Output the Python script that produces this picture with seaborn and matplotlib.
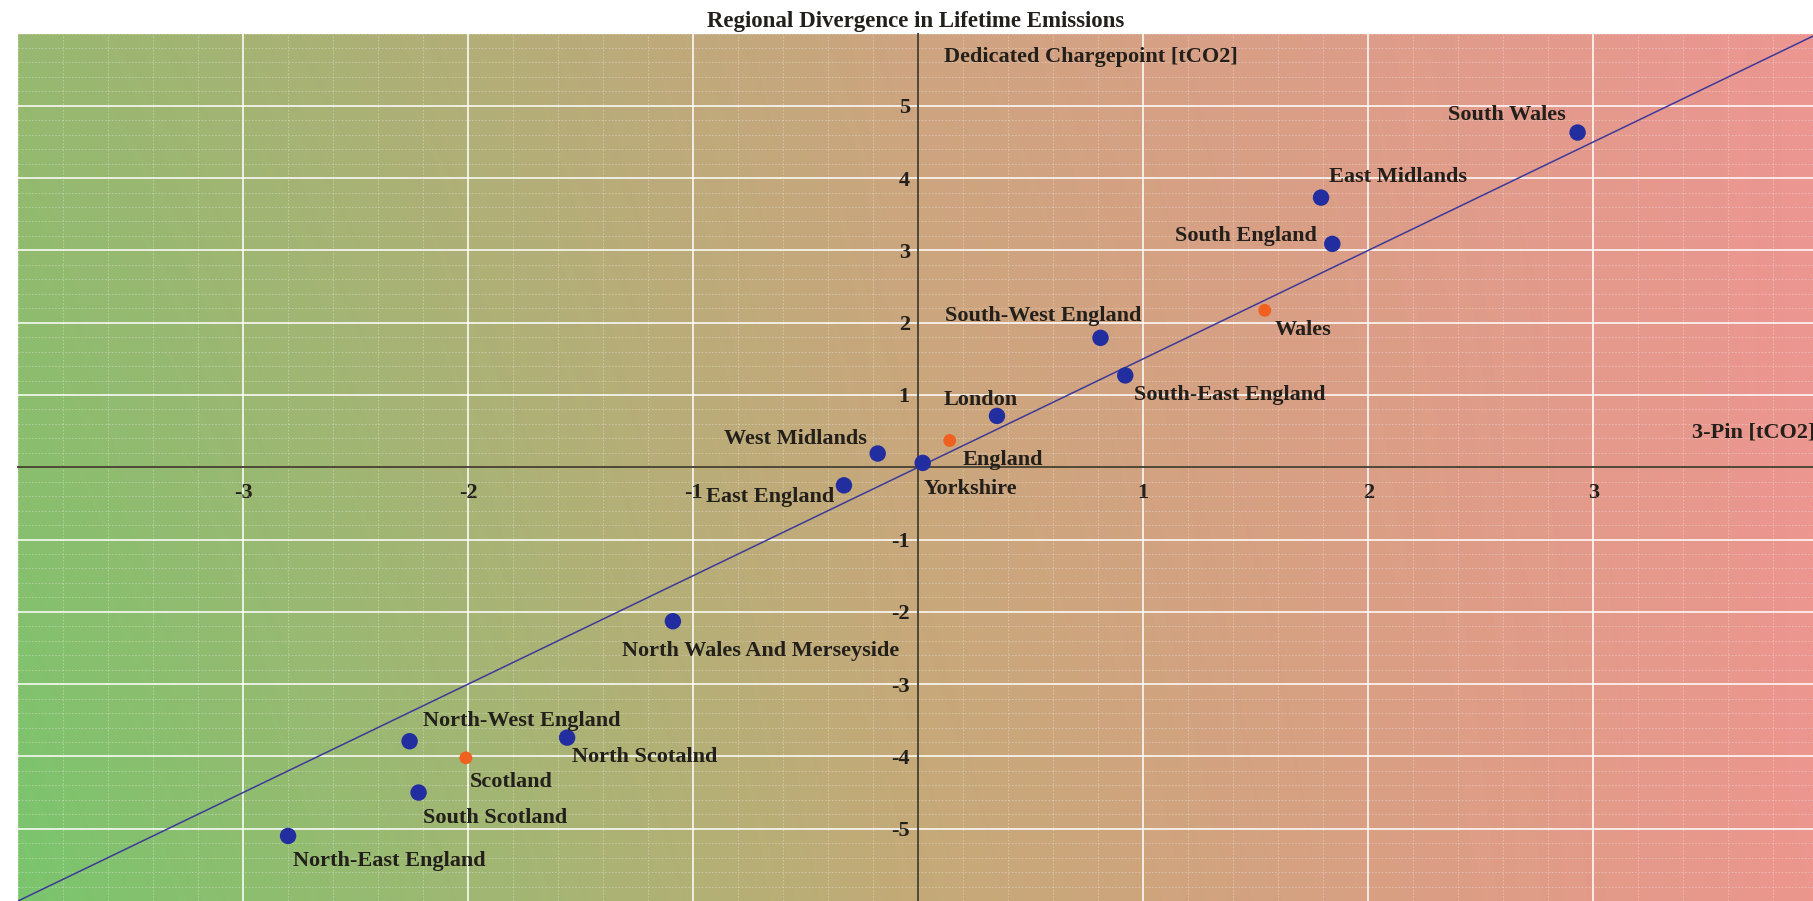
import numpy as np
import pandas as pd
import matplotlib
matplotlib.use("Agg")
import matplotlib.pyplot as plt
from matplotlib.ticker import MultipleLocator, FixedLocator, FixedFormatter
import seaborn as sns

# Lifetime emission divergence per region: 3-pin vs dedicated chargepoint (tCO2)
regions = ["South Wales", "East Midlands", "South England", "South-West England",
           "South-East England", "London", "Yorkshire", "West Midlands",
           "East England", "North Wales And Merseyside", "North-West England",
           "North Scotalnd", "South Scotland", "North-East England"]
region_3pin = [2.93, 1.79, 1.84, 0.81, 0.92, 0.35, 0.02, -0.18, -0.33,
               -1.09, -2.26, -1.56, -2.22, -2.80]
region_dedicated = [4.63, 3.73, 3.09, 1.79, 1.27, 0.71, 0.06, 0.19, -0.25,
                    -2.13, -3.79, -3.74, -4.50, -5.10]

nations = ["Wales", "England", "Scotland"]
nation_3pin = [1.54, 0.14, -2.01]
nation_dedicated = [2.17, 0.37, -4.02]

# reference diagonal
ref_x = [-4, 4]
ref_y = [-6, 6]

x_ticks = [-3, -2, -1, 1, 2, 3]
x_tick_labels = ["-3", "-2", "-1", "1", "2", "3"]
y_ticks = [-5, -4, -3, -2, -1, 1, 2, 3, 4, 5]
y_tick_labels = ["-5", "-4", "-3", "-2", "-1", "1", "2", "3", "4", "5"]

title = "Regional Divergence in Lifetime Emissions"
x_label = "3-Pin [tCO2]"
y_label = "Dedicated Chargepoint [tCO2]"

# label placement (pixel offsets from each marker, horizontal alignment)
label_offsets = {
    "South Wales": (-12, 18, "right"),
    "East Midlands": (8, 21, "left"),
    "South England": (-15, 8, "right"),
    "Wales": (10, -20, "left"),
    "South-West England": (41, 22, "right"),
    "South-East England": (9, -20, "left"),
    "London": (-16, 16, "center"),
    "England": (13, -19, "left"),
    "Yorkshire": (1, -26, "left"),
    "West Midlands": (-11, 15, "right"),
    "East England": (-10, -12, "right"),
    "North Wales And Merseyside": (88, -30, "center"),
    "North-West England": (13, 20, "left"),
    "North Scotalnd": (5, -19, "left"),
    "Scotland": (4, -24, "left"),
    "South Scotland": (4, -25, "left"),
    "North-East England": (5, -25, "left"),
}

sns.set_theme(style="whitegrid")
plt.rcParams["font.family"] = ["Liberation Serif", "DejaVu Serif"]
plt.rcParams["font.weight"] = "bold"

fig = plt.figure(figsize=(18.13, 9.01), dpi=100)
ax = fig.add_axes([18 / 1813, 0.0, 1 - 18 / 1813, 1 - 33.5 / 901])

xmin, xmax, ymin, ymax = -4, 3.976, -6, 6

# green-to-red background wash
nx, ny = 400, 120
u = np.linspace(0, 1, nx)
v = np.linspace(0, 1, ny)[:, None]  # 0 = bottom, 1 = top
stops_u = [0.0, 0.5, 1.0]
top_cols = np.array([[152, 184, 112], [206, 164, 128], [236, 150, 146]]) / 255
bot_cols = np.array([[122, 197, 109], [196, 170, 120], [236, 150, 142]]) / 255
top = np.stack([np.interp(u, stops_u, top_cols[:, c]) for c in range(3)], axis=-1)
bot = np.stack([np.interp(u, stops_u, bot_cols[:, c]) for c in range(3)], axis=-1)
wash = bot[None, :, :] * (1 - v[..., None]) + top[None, :, :] * v[..., None]
ax.imshow(wash, extent=[xmin, xmax, ymin, ymax], origin="lower",
          aspect="auto", zorder=-2, interpolation="bilinear")

ax.set_facecolor("none")
ax.set_axisbelow(True)

# grid
ax.xaxis.set_major_locator(FixedLocator(x_ticks))
ax.xaxis.set_major_formatter(FixedFormatter(x_tick_labels))
ax.yaxis.set_major_locator(FixedLocator(y_ticks))
ax.yaxis.set_major_formatter(FixedFormatter(y_tick_labels))
ax.xaxis.set_minor_locator(MultipleLocator(0.2))
ax.yaxis.set_minor_locator(MultipleLocator(0.2))
ax.grid(which="major", color="white", linewidth=1.3, alpha=0.85)
ax.grid(which="minor", color="white", linewidth=0.6, alpha=0.35,
        linestyle=(0, (2, 2)))

# reference line
ref = pd.DataFrame({"x": ref_x, "y": ref_y})
sns.lineplot(data=ref, x="x", y="y", ax=ax, color="#3d3a98", linewidth=1.1,
             zorder=2)

df_r = pd.DataFrame({"name": regions, "x": region_3pin, "y": region_dedicated})
df_n = pd.DataFrame({"name": nations, "x": nation_3pin, "y": nation_dedicated})
sns.scatterplot(data=df_r, x="x", y="y", ax=ax, color="#222ea0", s=140,
                edgecolor="none", zorder=3)
sns.scatterplot(data=df_n, x="x", y="y", ax=ax, color="#f0601e", s=85,
                edgecolor="none", zorder=3)

for df in (df_r, df_n):
    for name, x, y in zip(df["name"], df["x"], df["y"]):
        dx, dy, ha = label_offsets[name]
        ax.annotate(name, (x, y), xytext=(dx, dy), textcoords="offset pixels",
                    ha=ha, va="center", fontsize=16, fontweight="bold",
                    color="#231f1a", zorder=4)

ax.set_xlim(xmin, xmax)
ax.set_ylim(ymin, ymax)

# cross-hair axes through the origin
for side in ("top", "right"):
    ax.spines[side].set_visible(False)
for side in ("bottom", "left"):
    ax.spines[side].set_position("zero")
    ax.spines[side].set_color("#4f4838")
    ax.spines[side].set_linewidth(1.4)
    ax.spines[side].set_zorder(2.5)

ax.tick_params(axis="both", which="major", direction="in", length=13,
               width=1.4, color="#4f4838", labelsize=16, labelcolor="#231f1a")
ax.tick_params(axis="x", which="major", pad=11)
ax.tick_params(axis="y", which="major", pad=6)
ax.tick_params(which="minor", length=0)
for lbl in ax.get_xticklabels() + ax.get_yticklabels():
    lbl.set_fontweight("bold")

ax.set_xlabel("")
ax.set_ylabel("")
ax.text(0.5158, 0.973, y_label, transform=ax.transAxes, ha="left",
        va="center", fontsize=16, fontweight="bold", color="#231f1a")
ax.text(0.9325, 0.540, x_label, transform=ax.transAxes, ha="left",
        va="center", fontsize=16, fontweight="bold", color="#231f1a",
        clip_on=False)

ax.set_title(title, fontsize=16.5, fontweight="bold", color="#231f1a", pad=5)

fig.savefig("out.png", dpi=100, facecolor="white")
